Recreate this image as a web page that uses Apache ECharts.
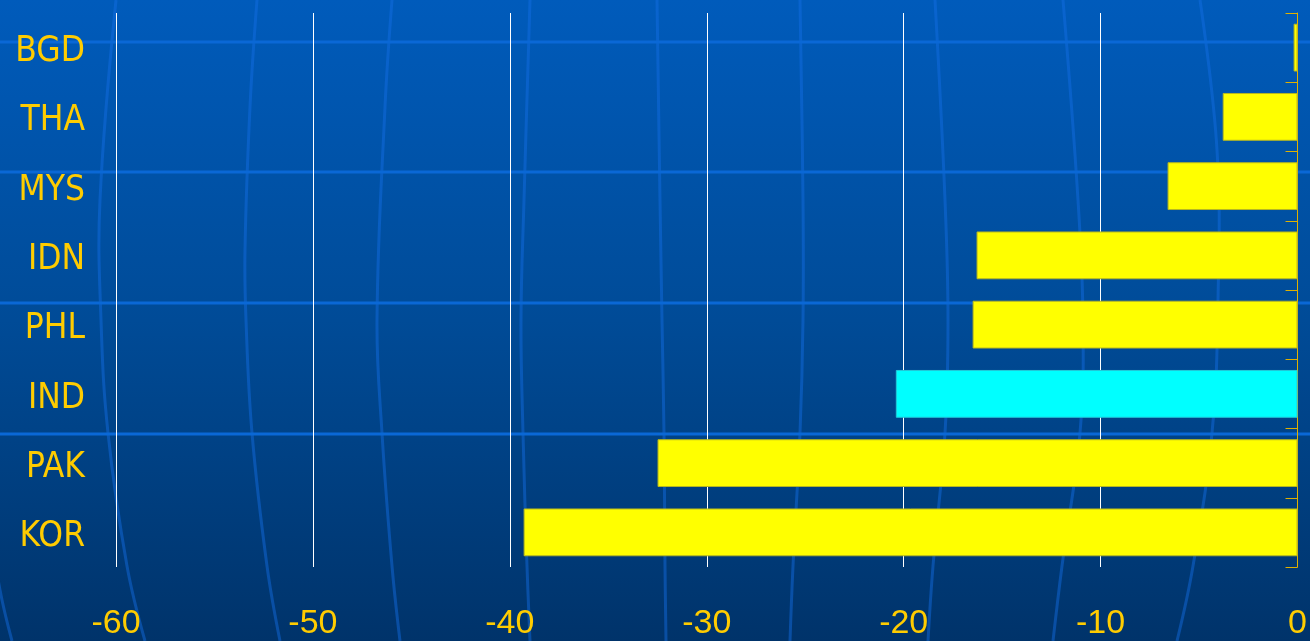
<!DOCTYPE html>
<html>
<head>
<meta charset="utf-8">
<script src="https://cdn.jsdelivr.net/npm/echarts@6/dist/echarts.min.js"></script>
<style>
html,body{margin:0;padding:0;background:#004a96;}
#chart{width:1310px;height:641px;}
</style>
</head>
<body>
<div id="chart"></div>
<script>
// ---- data ----
const categories = ['BGD', 'THA', 'MYS', 'IDN', 'PHL', 'IND', 'PAK', 'KOR'];
const values = [-0.2, -3.8, -6.6, -16.3, -16.5, -20.4, -32.5, -39.3];
const highlight = ['IND'];
const xTicks = [-60, -50, -40, -30, -20, -10, 0];

// ---- decorative background (template art, not data) ----
const meridians = [
  [[116,0],[100,200],[101,320],[108,433],[127,566],[145,641]],
  [[-20,470],[0,590],[12,641]],
  [[257,0],[250,107],[245,250],[246,320],[252,433],[267,566],[280,641]],
  [[392,0],[385,107],[377,320],[382,433],[392,566],[400,641]],
  [[530,0],[524,200],[521,320],[523,433],[527,566],[530,641]],
  [[657,0],[660,200],[662,320],[664,433],[665,566],[666,641]],
  [[800,0],[803,200],[803,320],[800,433],[793,566],[790,641]],
  [[935,0],[945,200],[948,320],[945,433],[933,566],[928,641]],
  [[1063,0],[1078,200],[1083,320],[1080,433],[1062,566],[1053,641]],
  [[1200,0],[1217,150],[1218,300],[1212,433],[1193,566],[1177,641]]
];
const parallels = [42, 172, 303, 434];

const W = 1310, H = 641;
const graphics = [{
  type: 'rect', z: -100, silent: true,
  shape: {x: 0, y: 0, width: W, height: H},
  style: {fill: new echarts.graphic.LinearGradient(0, 0, 0, 1, [
    {offset: 0, color: '#005bbb'},
    {offset: 0.5, color: '#004b97'},
    {offset: 1, color: '#00336a'}
  ])}
}];
meridians.forEach(p => graphics.push({
  type: 'polyline', z: -90, silent: true,
  shape: {points: p, smooth: 0.4},
  style: {stroke: 'rgba(20,110,230,0.45)', lineWidth: 3, fill: null}
}));
parallels.forEach(y => graphics.push({
  type: 'line', z: -80, silent: true,
  shape: {x1: 0, y1: y, x2: W, y2: y},
  style: {stroke: '#0a68d6', lineWidth: 3}
}));

const gold = '#ffcc00';
const chart = echarts.init(document.getElementById('chart'), null, {renderer: 'canvas'});
chart.setOption({
  animation: false,
  backgroundColor: 'transparent',
  graphic: graphics,
  grid: [
    {left: 116, right: 11, top: 13, bottom: 73, containLabel: false},
    {left: 116, right: 11, top: 17, bottom: 69, containLabel: false}
  ],
  xAxis: [{
    type: 'value', gridIndex: 0, min: xTicks[0], max: xTicks[xTicks.length - 1], interval: 10,
    axisLine: {show: false}, axisTick: {show: false},
    splitLine: {show: true, lineStyle: {color: '#ffffff', width: 1}},
    axisLabel: {color: gold, fontSize: 34, fontFamily: 'Liberation Sans, Arial, sans-serif', margin: 40}
  }, {
    type: 'value', gridIndex: 1, min: xTicks[0], max: xTicks[xTicks.length - 1], interval: 10, show: false
  }],
  yAxis: [{
    type: 'category', gridIndex: 0, data: categories, inverse: true, position: 'right',
    axisLine: {show: true, onZero: false, lineStyle: {color: '#e0b000', width: 1}},
    axisTick: {show: true, inside: true, length: 12, lineStyle: {color: '#e0b000'}},
    axisLabel: {show: false}, splitLine: {show: false}
  }, {
    type: 'category', gridIndex: 1, data: categories, inverse: true, position: 'left',
    axisLine: {show: false}, axisTick: {show: false}, splitLine: {show: false},
    axisLabel: {color: gold, fontSize: 35, fontFamily: '"DejaVu Sans Condensed", "Liberation Sans", sans-serif',
      margin: 31}
  }],
  series: [{
    type: 'bar', xAxisIndex: 0, yAxisIndex: 0, barWidth: '69%',
    data: values.map((v, i) => ({
      value: v,
      itemStyle: highlight.includes(categories[i])
        ? {color: '#00ffff', borderColor: '#22c8d8', borderWidth: 1}
        : {color: '#ffff00', borderColor: '#b8b820', borderWidth: 1}
    }))
  }]
});
</script>
</body>
</html>
